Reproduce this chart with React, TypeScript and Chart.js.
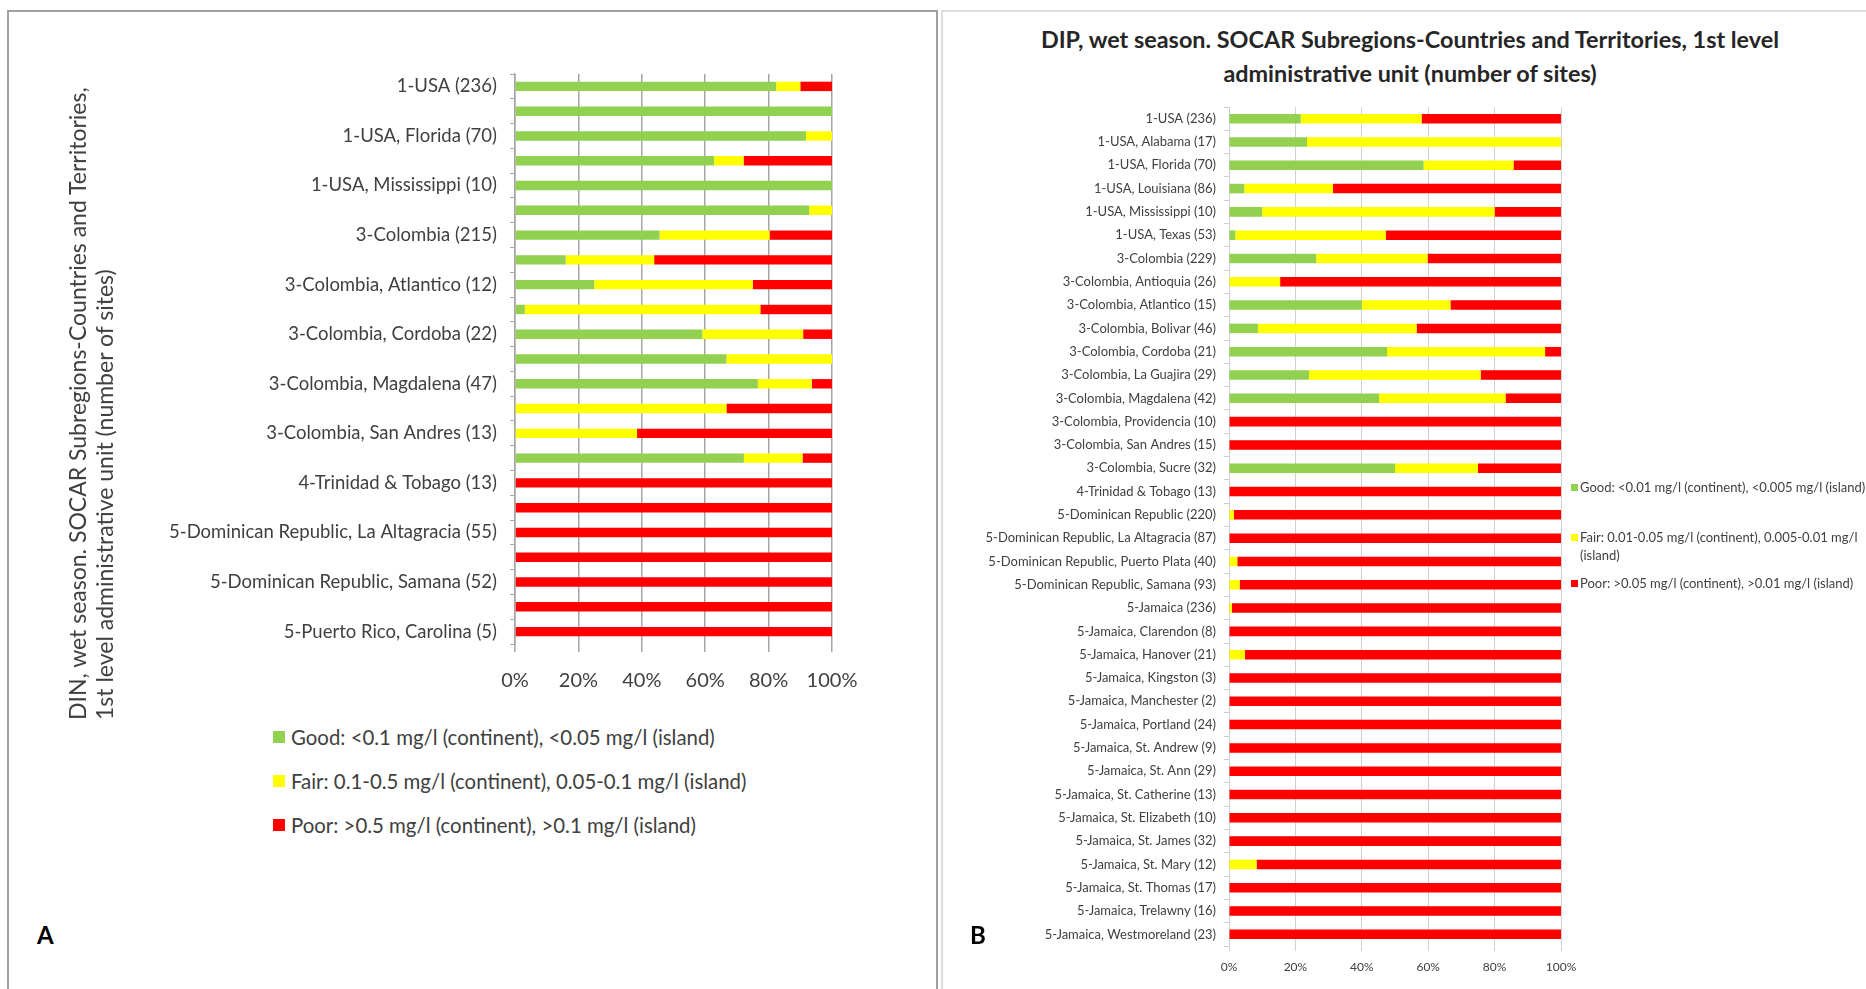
import React, { useEffect, useRef } from "react";
import { Chart, registerables } from "chart.js";

Chart.register(...registerables);

// ---------- Panel A: DIN, wet season ----------
const categoriesA = [
  "1-USA (236)",
  "1-USA, Alabama",
  "1-USA, Florida (70)",
  "1-USA, Louisiana",
  "1-USA, Mississippi (10)",
  "1-USA, Texas",
  "3-Colombia (215)",
  "3-Colombia, Antioquia",
  "3-Colombia, Atlantico (12)",
  "3-Colombia, Bolivar",
  "3-Colombia, Cordoba (22)",
  "3-Colombia, La Guajira",
  "3-Colombia, Magdalena (47)",
  "3-Colombia, Providencia",
  "3-Colombia, San Andres (13)",
  "3-Colombia, Sucre",
  "4-Trinidad & Tobago (13)",
  "5-Dominican Republic",
  "5-Dominican Republic, La Altagracia (55)",
  "5-Dominican Republic, Puerto Plata",
  "5-Dominican Republic, Samana (52)",
  "5-Puerto Rico",
  "5-Puerto Rico, Carolina (5)",
];
const goodA = [82.4, 100, 91.8, 62.8, 100, 92.8, 45.6, 16.0, 25, 3.1, 59.1, 66.7, 76.6, 0, 0, 72.2, 0, 0, 0, 0, 0, 0, 0];
const fairA = [7.6, 0, 8.2, 9.3, 0, 7.2, 34.7, 27.9, 50, 74.3, 31.8, 33.3, 17.0, 66.7, 38.5, 18.5, 0, 0, 0, 0, 0, 0, 0];
const poorA = [10.0, 0, 0, 27.9, 0, 0, 19.7, 56.1, 25, 22.6, 9.1, 0, 6.4, 33.3, 61.5, 9.3, 100, 100, 100, 100, 100, 100, 100];
const legendA = [
  "Good: <0.1 mg/l (continent), <0.05 mg/l (island)",
  "Fair: 0.1-0.5 mg/l (continent), 0.05-0.1 mg/l (island)",
  "Poor: >0.5 mg/l (continent), >0.1 mg/l (island)",
];
const titleA = [
  "DIN, wet season. SOCAR Subregions-Countries and Territories,",
  "1st level administrative unit (number of sites)",
];

// ---------- Panel B: DIP, wet season ----------
const categoriesB = [
  "1-USA (236)",
  "1-USA, Alabama (17)",
  "1-USA, Florida (70)",
  "1-USA, Louisiana (86)",
  "1-USA, Mississippi (10)",
  "1-USA, Texas (53)",
  "3-Colombia (229)",
  "3-Colombia, Antioquia (26)",
  "3-Colombia, Atlantico (15)",
  "3-Colombia, Bolivar (46)",
  "3-Colombia, Cordoba (21)",
  "3-Colombia, La Guajira (29)",
  "3-Colombia, Magdalena (42)",
  "3-Colombia, Providencia (10)",
  "3-Colombia, San Andres (15)",
  "3-Colombia, Sucre (32)",
  "4-Trinidad & Tobago (13)",
  "5-Dominican Republic (220)",
  "5-Dominican Republic, La Altagracia (87)",
  "5-Dominican Republic, Puerto Plata (40)",
  "5-Dominican Republic, Samana (93)",
  "5-Jamaica (236)",
  "5-Jamaica, Clarendon (8)",
  "5-Jamaica, Hanover (21)",
  "5-Jamaica, Kingston (3)",
  "5-Jamaica, Manchester (2)",
  "5-Jamaica, Portland (24)",
  "5-Jamaica, St. Andrew (9)",
  "5-Jamaica, St. Ann (29)",
  "5-Jamaica, St. Catherine (13)",
  "5-Jamaica, St. Elizabeth (10)",
  "5-Jamaica, St. James (32)",
  "5-Jamaica, St. Mary (12)",
  "5-Jamaica, St. Thomas (17)",
  "5-Jamaica, Trelawny (16)",
  "5-Jamaica, Westmoreland (23)",
];
const goodB = [21.6, 23.5, 58.6, 4.6, 10, 1.9, 26.3, 0, 40, 8.7, 47.6, 24.1, 45.2, 0, 0, 50, 0, 0, 0, 0, 0, 0, 0, 0, 0, 0, 0, 0, 0, 0, 0, 0, 0, 0, 0, 0];
const fairB = [36.4, 76.5, 27.1, 26.7, 70, 45.3, 33.5, 15.4, 26.7, 47.8, 47.6, 51.7, 38.1, 0, 0, 25, 0, 1.5, 0, 2.5, 3.2, 0.9, 0, 4.8, 0, 0, 0, 0, 0, 0, 0, 0, 8.3, 0, 0, 0];
const poorB = [42.0, 0, 14.3, 68.7, 20, 52.8, 40.2, 84.6, 33.3, 43.5, 4.8, 24.2, 16.7, 100, 100, 25, 100, 98.5, 100, 97.5, 96.8, 99.1, 100, 95.2, 100, 100, 100, 100, 100, 100, 100, 100, 91.7, 100, 100, 100];
const legendB = [
  ["Good: <0.01 mg/l (continent), <0.005 mg/l (island)"],
  ["Fair: 0.01-0.05 mg/l (continent), 0.005-0.01 mg/l", "(island)"],
  ["Poor: >0.05 mg/l (continent), >0.01 mg/l (island)"],
];
const titleB = [
  "DIP, wet season. SOCAR Subregions-Countries and Territories, 1st level",
  "administrative unit (number of sites)",
];

const seriesNames = ["Good", "Fair", "Poor"];
const COLORS = ["#92D050", "#FFFF00", "#FF0000"];
const FONT = "Lato, 'Open Sans', sans-serif";
const TXT = "#404040";

function makeChart(
  canvas: HTMLCanvasElement,
  labels: string[],
  series: number[][],
  cfg: any
) {
  return new Chart(canvas, {
    type: "bar",
    data: {
      labels,
      datasets: series.map((d, i) => ({
        label: seriesNames[i],
        data: d,
        backgroundColor: COLORS[i],
        borderWidth: 0,
        categoryPercentage: 1,
        barPercentage: cfg.barPct,
      })),
    },
    options: {
      indexAxis: "y",
      animation: false,
      responsive: false,
      maintainAspectRatio: false,
      layout: { padding: cfg.padding },
      plugins: { legend: { display: false }, tooltip: { enabled: false }, title: { display: false } },
      scales: {
        x: {
          stacked: true,
          min: 0,
          max: 100,
          ticks: {
            stepSize: 20,
            callback: (v: any) => v + "%",
            font: { family: FONT, size: cfg.xFont },
            color: TXT,
            padding: cfg.xPad,
            maxRotation: 0,
          },
          grid: { color: cfg.gridColor, lineWidth: cfg.gridWidth, tickLength: cfg.xTick },
          border: { display: false },
          afterFit: (s: any) => {
            s.height = cfg.xHeight;
          },
        },
        y: {
          stacked: true,
          ticks: {
            autoSkip: false,
            callback: (_v: any, i: number) => (cfg.skip && i % 2 === 1 ? "" : labels[i]),
            font: { family: FONT, size: cfg.yFont },
            color: TXT,
            padding: cfg.yPad,
          },
          grid: { drawOnChartArea: false, tickLength: cfg.yTick, color: cfg.gridColor, lineWidth: 1 },
          border: { display: true, color: cfg.gridColor, width: cfg.gridWidth },
          afterFit: (s: any) => {
            s.width = cfg.yWidth;
          },
        },
      },
    },
  } as any);
}

export default function App() {
  const refA = useRef<HTMLCanvasElement>(null);
  const refB = useRef<HTMLCanvasElement>(null);

  useEffect(() => {
    const a = makeChart(refA.current!, categoriesA, [goodA, fairA, poorA], {
      barPct: 0.38,
      padding: { top: 74, left: 0, right: 68, bottom: 16 },
      xFont: 20,
      yFont: 18.5,
      xPad: 17,
      yPad: 13,
      xTick: 8,
      yTick: 5,
      xHeight: 50,
      yWidth: 515,
      gridColor: "#a6a6a6",
      gridWidth: 1.5,
      skip: true,
    });
    const b = makeChart(refB.current!, categoriesB, [goodB, fairB, poorB], {
      barPct: 0.41,
      padding: { top: 17, left: 0, right: 60, bottom: 13 },
      xFont: 12,
      yFont: 13,
      xPad: 9,
      yPad: 8,
      xTick: 5,
      yTick: 5,
      xHeight: 30,
      yWidth: 288,
      gridColor: "#d0d0d0",
      gridWidth: 1,
      skip: false,
    });
    return () => {
      a.destroy();
      b.destroy();
    };
  }, []);

  return (
    <div
      style={{
        position: "fixed",
        left: 0,
        top: 0,
        width: 1866,
        height: 989,
        background: "#fff",
        overflow: "hidden",
        fontFamily: FONT,
      }}
    >
      {/* panel frames */}
      <div style={{ position: "absolute", left: 7, top: 10, width: 927, height: 1000, border: "2px solid #a0a0a0" }} />
      <div style={{ position: "absolute", left: 941, top: 10, width: 1000, height: 1000, border: "2px solid #dcdcdc" }} />

      <canvas ref={refA} width={900} height={710} style={{ position: "absolute", left: 0, top: 0, width: 900, height: 710 }} />
      <canvas ref={refB} width={680} height={899} style={{ position: "absolute", left: 941, top: 90, width: 680, height: 899 }} />

      {/* Panel A vertical title */}
      <div
        style={{
          position: "absolute",
          left: 64,
          top: 720,
          width: 700,
          transform: "rotate(-90deg)",
          transformOrigin: "left top",
          fontSize: 23,
          lineHeight: "27px",
          color: TXT,
          whiteSpace: "nowrap",
        }}
      >
        {titleA.map((t, i) => (
          <div key={i}>{t}</div>
        ))}
      </div>

      {/* Panel A legend */}
      {legendA.map((t, i) => (
        <div
          key={i}
          style={{ position: "absolute", left: 273, top: 724 + i * 44, height: 26, display: "flex", alignItems: "center", whiteSpace: "nowrap" }}
        >
          <span style={{ width: 12, height: 12, background: COLORS[i], marginRight: 6, display: "inline-block" }} />
          <span style={{ fontSize: 20.4, color: TXT }}>{t}</span>
        </div>
      ))}

      {/* Panel B title */}
      <div
        style={{
          position: "absolute",
          left: 960,
          top: 22,
          width: 900,
          textAlign: "center",
          fontSize: 23.4,
          fontWeight: 700,
          lineHeight: "34px",
          color: "#262626",
          whiteSpace: "nowrap",
        }}
      >
        {titleB.map((t, i) => (
          <div key={i}>{t}</div>
        ))}
      </div>

      {/* Panel B legend */}
      {legendB.map((lines, i) => (
        <div
          key={i}
          style={{ position: "absolute", left: 1571, top: [478, 528, 574][i], whiteSpace: "nowrap", fontSize: 13, lineHeight: "18px", color: TXT }}
        >
          {lines.map((t, j) => (
            <div key={j} style={{ display: "flex", alignItems: "center" }}>
              <span style={{ width: 7, height: 7, background: j === 0 ? COLORS[i] : "transparent", marginRight: 2, display: "inline-block" }} />
              <span>{t}</span>
            </div>
          ))}
        </div>
      ))}

      {/* Panel letters */}
      <div style={{ position: "absolute", left: 37, top: 920, fontSize: 24, fontWeight: 700, color: "#000" }}>A</div>
      <div style={{ position: "absolute", left: 970, top: 920, fontSize: 24, fontWeight: 700, color: "#000" }}>B</div>
    </div>
  );
}
